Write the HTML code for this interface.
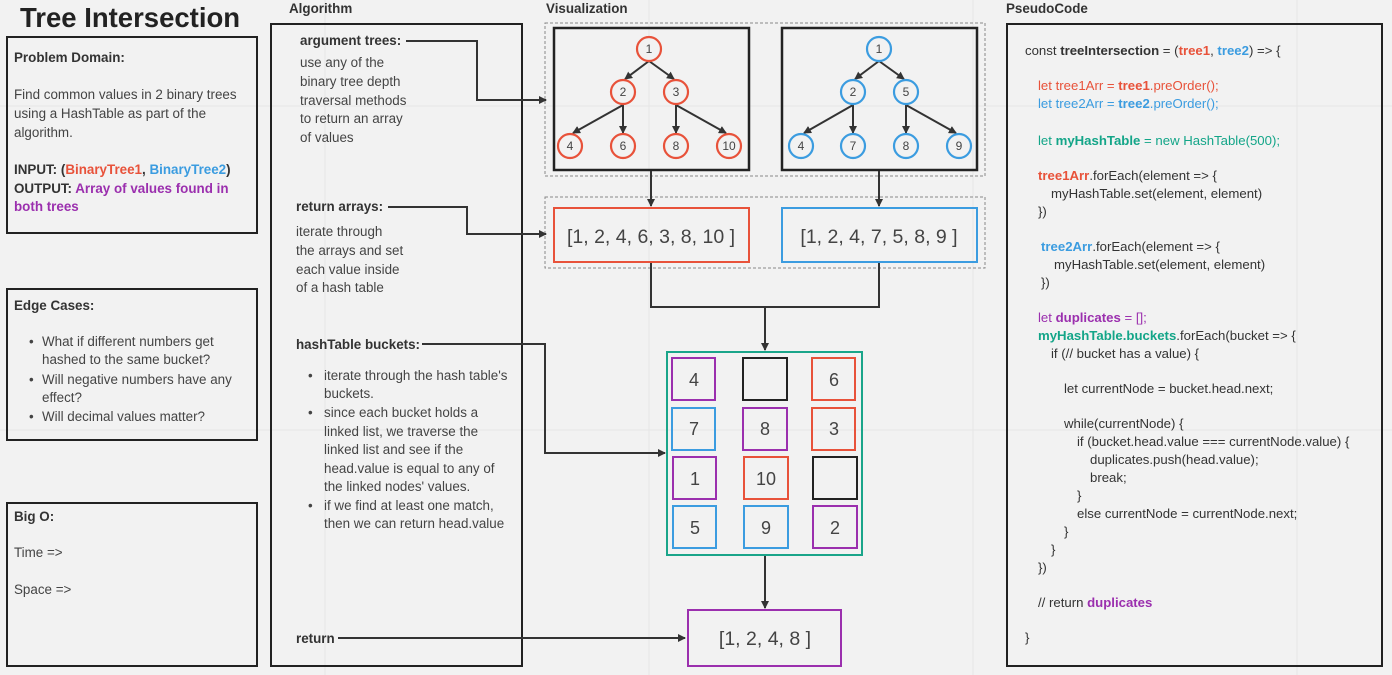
<!DOCTYPE html>
<html><head><meta charset="utf-8"><style>
html,body{margin:0;padding:0;background:#f2f2f2;}
svg{display:block;font-family:"Liberation Sans",sans-serif;}
.t{font-size:13.4px;fill:#444;}
.b{font-weight:bold;fill:#333;}
.h{font-size:13.4px;font-weight:bold;fill:#333;}
.c{font-size:13.2px;fill:#333;}
.n{font-size:12px;fill:#444;text-anchor:middle;}
.big{font-size:19.5px;fill:#444;text-anchor:middle;}
</style></head><body>
<svg width="1392" height="675" viewBox="0 0 1392 675" xmlns="http://www.w3.org/2000/svg">
<defs>
<marker id="a" markerWidth="8" markerHeight="8" refX="7" refY="4" orient="auto" markerUnits="userSpaceOnUse"><path d="M0,0 L8,4 L0,8 z" fill="#333"/></marker>
</defs>
<rect width="1392" height="675" fill="#f2f2f2"/>
<g stroke="#e6e6e6" stroke-width="1">
<line x1="325" y1="0" x2="325" y2="675"/><line x1="649" y1="0" x2="649" y2="675"/><line x1="973" y1="0" x2="973" y2="675"/><line x1="1297" y1="0" x2="1297" y2="675"/>
<line x1="0" y1="106" x2="1392" y2="106"/><line x1="0" y1="430" x2="1392" y2="430"/>
</g>

<text x="20" y="27" font-size="27.5" font-weight="bold" fill="#222">Tree Intersection</text>

<g fill="none" stroke="#222" stroke-width="2">
<rect x="7" y="37" width="250" height="196"/>
<rect x="7" y="289" width="250" height="151"/>
<rect x="7" y="503" width="250" height="163"/>
<rect x="271" y="24" width="251" height="642"/>
<rect x="554" y="28" width="195" height="142" stroke-width="2.5"/>
<rect x="782" y="28" width="195" height="142" stroke-width="2.5"/>
<rect x="1007" y="24" width="375" height="642"/>
</g>
<g fill="none" stroke="#888" stroke-width="1" stroke-dasharray="3,2">
<rect x="545" y="23" width="440" height="153"/>
<rect x="545" y="197" width="440" height="71"/>
</g>

<text x="14" y="62" class="h">Problem Domain:</text>
<text x="14" y="99" class="t">Find common values in 2 binary trees</text>
<text x="14" y="118" class="t">using a HashTable as part of the</text>
<text x="14" y="137" class="t">algorithm.</text>
<text x="14" y="174" class="h">INPUT: (<tspan fill="#e8523a">BinaryTree1</tspan>, <tspan fill="#3b9ce0">BinaryTree2</tspan>)</text>
<text x="14" y="193" class="h">OUTPUT: <tspan fill="#9b2fae">Array of values found in</tspan></text>
<text x="14" y="211" class="h" style="fill:#9b2fae">both trees</text>

<text x="14" y="310" class="h">Edge Cases:</text>
<g class="t">
<text x="29" y="346">•</text><text x="42" y="346">What if different numbers get</text>
<text x="42" y="364">hashed to the same bucket?</text>
<text x="29" y="384">•</text><text x="42" y="384">Will negative numbers have any</text>
<text x="42" y="402">effect?</text>
<text x="29" y="421">•</text><text x="42" y="421">Will decimal values matter?</text>
</g>

<text x="14" y="521" class="h">Big O:</text>
<text x="14" y="557" class="t">Time =&gt;</text>
<text x="14" y="594" class="t">Space =&gt;</text>

<text x="289" y="13" class="h">Algorithm</text>
<text x="546" y="13" class="h">Visualization</text>
<text x="1006" y="13" class="h">PseudoCode</text>

<text x="300" y="45" class="h">argument trees:</text>
<g class="t">
<text x="300" y="67">use any of the</text>
<text x="300" y="86">binary tree depth</text>
<text x="300" y="105">traversal methods</text>
<text x="300" y="123">to return an array</text>
<text x="300" y="142">of values</text>
</g>
<text x="296" y="211" class="h">return arrays:</text>
<g class="t">
<text x="296" y="236">iterate through</text>
<text x="296" y="255">the arrays and set</text>
<text x="296" y="274">each value inside</text>
<text x="296" y="292">of a hash table</text>
</g>
<text x="296" y="349" class="h">hashTable buckets:</text>
<g class="t">
<text x="308" y="380">•</text><text x="324" y="380">iterate through the hash table's</text>
<text x="324" y="398">buckets.</text>
<text x="308" y="417">•</text><text x="324" y="417">since each bucket holds a</text>
<text x="324" y="436">linked list, we traverse the</text>
<text x="324" y="454">linked list and see if the</text>
<text x="324" y="473">head.value is equal to any of</text>
<text x="324" y="491">the linked nodes' values.</text>
<text x="308" y="510">•</text><text x="324" y="510">if we find at least one match,</text>
<text x="324" y="528">then we can return head.value</text>
</g>
<text x="296" y="643" class="h">return</text>

<g fill="none" stroke="#333" stroke-width="2">
<polyline points="406,41 477,41 477,100 546,100" marker-end="url(#a)"/>
<polyline points="388,207 467,207 467,234 546,234" marker-end="url(#a)"/>
<polyline points="422,344 545,344 545,453 665,453" marker-end="url(#a)"/>
<polyline points="338,638 685,638" marker-end="url(#a)"/>
<line x1="651" y1="171" x2="651" y2="206" marker-end="url(#a)"/>
<line x1="879" y1="171" x2="879" y2="206" marker-end="url(#a)"/>
<polyline points="651,263 651,307 879,307 879,263"/>
<line x1="765" y1="307" x2="765" y2="350" marker-end="url(#a)"/>
<line x1="765" y1="556" x2="765" y2="608" marker-end="url(#a)"/>
</g>

<g stroke="#333" stroke-width="2" fill="none">
<line x1="649" y1="61" x2="625" y2="79" marker-end="url(#a)"/>
<line x1="649" y1="61" x2="674" y2="79" marker-end="url(#a)"/>
<line x1="623" y1="105" x2="573" y2="133" marker-end="url(#a)"/>
<line x1="623" y1="105" x2="623" y2="133" marker-end="url(#a)"/>
<line x1="676" y1="105" x2="676" y2="133" marker-end="url(#a)"/>
<line x1="676" y1="105" x2="726" y2="133" marker-end="url(#a)"/>
<line x1="879" y1="61" x2="855" y2="79" marker-end="url(#a)"/>
<line x1="879" y1="61" x2="904" y2="79" marker-end="url(#a)"/>
<line x1="853" y1="105" x2="804" y2="133" marker-end="url(#a)"/>
<line x1="853" y1="105" x2="853" y2="133" marker-end="url(#a)"/>
<line x1="906" y1="105" x2="906" y2="133" marker-end="url(#a)"/>
<line x1="906" y1="105" x2="956" y2="133" marker-end="url(#a)"/>
</g>
<g stroke="#e8523a" stroke-width="2.2" fill="#f2f2f2">
<circle cx="649" cy="49" r="12"/><circle cx="623" cy="92" r="12"/><circle cx="676" cy="92" r="12"/>
<circle cx="570" cy="146" r="12"/><circle cx="623" cy="146" r="12"/><circle cx="676" cy="146" r="12"/><circle cx="729" cy="146" r="12"/>
</g>
<g stroke="#3b9ce0" stroke-width="2.2" fill="#f2f2f2">
<circle cx="879" cy="49" r="12"/><circle cx="853" cy="92" r="12"/><circle cx="906" cy="92" r="12"/>
<circle cx="801" cy="146" r="12"/><circle cx="853" cy="146" r="12"/><circle cx="906" cy="146" r="12"/><circle cx="959" cy="146" r="12"/>
</g>
<g class="n">
<text x="649" y="53">1</text><text x="623" y="96">2</text><text x="676" y="96">3</text>
<text x="570" y="150">4</text><text x="623" y="150">6</text><text x="676" y="150">8</text><text x="729" y="150">10</text>
<text x="879" y="53">1</text><text x="853" y="96">2</text><text x="906" y="96">5</text>
<text x="801" y="150">4</text><text x="853" y="150">7</text><text x="906" y="150">8</text><text x="959" y="150">9</text>
</g>

<rect x="554" y="208" width="195" height="54" fill="none" stroke="#e8523a" stroke-width="2"/>
<rect x="782" y="208" width="195" height="54" fill="none" stroke="#3b9ce0" stroke-width="2"/>
<text x="651" y="243" class="big">[1, 2, 4, 6, 3, 8, 10 ]</text>
<text x="879" y="243" class="big">[1, 2, 4, 7, 5, 8, 9 ]</text>

<rect x="667" y="352" width="195" height="203" fill="none" stroke="#1aa58a" stroke-width="2"/>
<g fill="none" stroke-width="2">
<rect x="672" y="358" width="43" height="42" stroke="#9b2fae"/>
<rect x="743" y="358" width="44" height="42" stroke="#222"/>
<rect x="812" y="358" width="43" height="42" stroke="#e8523a"/>
<rect x="672" y="408" width="43" height="42" stroke="#3b9ce0"/>
<rect x="743" y="408" width="44" height="42" stroke="#9b2fae"/>
<rect x="812" y="408" width="43" height="42" stroke="#e8523a"/>
<rect x="673" y="457" width="43" height="42" stroke="#9b2fae"/>
<rect x="744" y="457" width="44" height="42" stroke="#e8523a"/>
<rect x="813" y="457" width="44" height="42" stroke="#222"/>
<rect x="673" y="506" width="43" height="42" stroke="#3b9ce0"/>
<rect x="744" y="506" width="44" height="42" stroke="#3b9ce0"/>
<rect x="813" y="506" width="44" height="42" stroke="#9b2fae"/>
</g>
<g class="big" style="font-size:18px">
<text x="694" y="386">4</text><text x="834" y="386">6</text>
<text x="694" y="435">7</text><text x="765" y="435">8</text><text x="834" y="435">3</text>
<text x="695" y="485">1</text><text x="766" y="485">10</text>
<text x="695" y="534">5</text><text x="766" y="534">9</text><text x="835" y="534">2</text>
</g>
<rect x="688" y="610" width="153" height="56" fill="none" stroke="#9b2fae" stroke-width="2"/>
<text x="765" y="645" class="big">[1, 2, 4, 8 ]</text>

<g class="c">
<text x="1025" y="55">const <tspan font-weight="bold">treeIntersection</tspan> = (<tspan fill="#e8523a" font-weight="bold">tree1</tspan>, <tspan fill="#3b9ce0" font-weight="bold">tree2</tspan>) =&gt; {</text>
<text x="1038" y="90" fill="#e8523a">let tree1Arr = <tspan font-weight="bold">tree1</tspan>.preOrder();</text>
<text x="1038" y="108" fill="#3b9ce0">let tree2Arr = <tspan font-weight="bold">tree2</tspan>.preOrder();</text>
<text x="1038" y="145" fill="#13a588">let <tspan font-weight="bold">myHashTable</tspan> = new HashTable(500);</text>
<text x="1038" y="180"><tspan fill="#e8523a" font-weight="bold">tree1Arr</tspan>.forEach(element =&gt; {</text>
<text x="1051" y="198">myHashTable.set(element, element)</text>
<text x="1038" y="216">})</text>
<text x="1041" y="251"><tspan fill="#3b9ce0" font-weight="bold">tree2Arr</tspan>.forEach(element =&gt; {</text>
<text x="1054" y="269">myHashTable.set(element, element)</text>
<text x="1041" y="287">})</text>
<text x="1038" y="322" fill="#9b2fae">let <tspan font-weight="bold">duplicates</tspan> = [];</text>
<text x="1038" y="340"><tspan fill="#13a588" font-weight="bold">myHashTable.buckets</tspan>.forEach(bucket =&gt; {</text>
<text x="1051" y="358">if (// bucket has a value) {</text>
<text x="1064" y="393">let currentNode = bucket.head.next;</text>
<text x="1064" y="428">while(currentNode) {</text>
<text x="1077" y="446">if (bucket.head.value === currentNode.value) {</text>
<text x="1090" y="464">duplicates.push(head.value);</text>
<text x="1090" y="482">break;</text>
<text x="1077" y="500">}</text>
<text x="1077" y="518">else currentNode = currentNode.next;</text>
<text x="1064" y="536">}</text>
<text x="1051" y="554">}</text>
<text x="1038" y="572">})</text>
<text x="1038" y="607">// return <tspan fill="#9b2fae" font-weight="bold">duplicates</tspan></text>
<text x="1025" y="642">}</text>
</g>
</svg>
</body></html>
